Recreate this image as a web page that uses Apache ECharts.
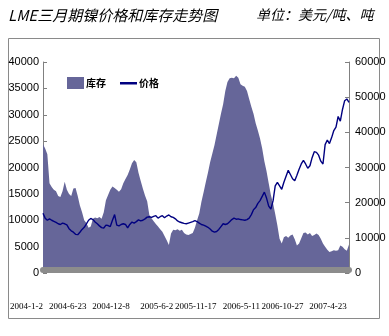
<!DOCTYPE html>
<html>
<head>
<meta charset="utf-8">
<script src="https://cdn.jsdelivr.net/npm/echarts@6/dist/echarts.min.js"></script>
<style>
html,body{margin:0;padding:0;background:#fff;}
#c{width:389px;height:336px;}
</style>
</head>
<body>
<div id="c"></div>
<script>
// Tick labels on the category axis (one every 20 samples)
var tickLabels = ['2004-1-2','2004-6-23','2004-12-8','2005-6-2','2005-11-17','2006-5-11','2006-10-27','2007-4-23'];

// LME nickel stocks (tonnes), left axis
var inventory = [
  24400,23600,22500,17000,16300,15800,15500,14600,14400,15500,
  17300,15800,15000,14600,16000,16100,14600,12800,11500,10000,
  9500,8600,8800,10300,10500,10400,10600,10300,11500,13800,
  14800,15800,16400,16100,15800,15400,15900,17000,17800,18600,
  19600,20800,21400,21000,19000,17500,16000,14700,13600,11000,
  10400,9800,9300,8800,8300,7800,7000,6200,5300,7500,
  8200,8100,8300,8000,8200,7600,7300,7200,7400,7600,
  8600,10000,11300,13500,15300,17200,19000,21000,22600,24200,
  26200,28200,30200,32000,34500,36200,36900,37000,36900,37400,
  37000,35800,35500,35300,34500,33000,31500,30200,28400,27000,
  25500,23600,21200,19300,17000,14800,13200,11200,9000,6500,
  5600,6800,7000,6700,7100,7300,6400,5200,5600,6600,
  7600,7700,7300,7600,7000,7200,7500,7200,6500,5600,
  5000,4400,4000,4100,4300,4200,4300,5200,5000,4500,4200,5400
];

// LME 3-month nickel price (USD/t), right axis
var price = [
  17000,15600,15000,15400,15000,14700,14400,14000,13800,14200,
  14000,13700,12600,12000,11600,11000,10900,11600,12400,13000,
  14000,15000,15500,15200,14500,14000,13400,12900,12800,13600,
  13500,13200,15000,16600,13600,13400,13800,14000,13800,12800,
  13800,14500,14200,14600,15100,14800,15000,15400,15900,16000,
  15800,16100,16300,15600,16000,16300,15700,16200,16500,16000,
  15800,15400,14800,14500,14300,14100,14000,14200,14400,14600,
  14900,14600,14200,13800,13600,13300,13000,12500,11900,11600,
  11800,12400,13200,14000,13800,14000,14600,15200,15600,15300,
  15400,15200,15100,15000,15200,15600,16600,18000,18600,19800,
  20600,21800,23000,21300,19000,18200,20500,24800,25800,24800,
  23800,25800,27500,29200,28000,26800,26200,27800,29500,31000,
  32000,31000,29800,30500,32800,34500,34300,33500,31800,31000,
  36500,37800,36800,38500,40500,41500,44500,43200,46500,49000,49500,48500
];

var seriesNames = ['库存','价格'];
var labelStep = 20;

var categories = inventory.map(function(_, i){ return String(i); });

var chart = echarts.init(document.getElementById('c'), null, {renderer:'canvas'});
var axisFont = "'Liberation Sans Narrow','Liberation Sans',sans-serif";
var dateFont = "'Liberation Serif','Times New Roman',serif";
var cjk = "'Noto Sans CJK SC',sans-serif";
chart.setOption({
  animation:false,
  backgroundColor:'#fff',
  title:[
    {text:'LME三月期镍价格和库存走势图', left:8, top:8, padding:0,
     textStyle:{fontSize:15, fontStyle:'italic', fontWeight:'normal', color:'#000', fontFamily:cjk}},
    {text:'单位：美元/吨、吨', left:256, top:8, padding:0,
     textStyle:{fontSize:14, fontStyle:'italic', fontWeight:'normal', color:'#000', fontFamily:cjk}}
  ],
  graphic:[
    {type:'rect', shape:{x:8.5, y:38.5, width:371, height:280}, style:{fill:'none', stroke:'#8a8a8a', lineWidth:1}, z:-1}
  ],
  legend:{
    left:67, top:77, itemWidth:17, itemHeight:12, itemGap:14, padding:0,
    symbolKeepAspect:false,
    textStyle:{fontSize:10, fontWeight:'bold', color:'#000', fontFamily:cjk, padding:[0,0,0,-3]},
    data:[
      {name:seriesNames[0], icon:'rect'},
      {name:seriesNames[1], icon:'path://M0,0L0.01,0L0,0.01Z M0,5L20,5L20,7.5L0,7.5Z M0,12L0.01,12L0,11.99Z'}
    ]
  },
  grid:{left:43, right:40, top:62, bottom:63},
  xAxis:{
    type:'category', data:categories, boundaryGap:false, z:10, offset:-3,
    axisLine:{show:true, lineStyle:{color:'#8c8c8c', width:6}},
    axisTick:{show:false},
    axisLabel:{
      interval:function(i){ return i % labelStep === 0; },
      formatter:function(v, i){ var k = i / labelStep; return tickLabels[k] || ''; },
      showMinLabel:true, showMaxLabel:true, hideOverlap:false,
      align:'right', margin:32, fontSize:9, color:'#000', fontFamily:dateFont
    },
    splitLine:{show:false}
  },
  yAxis:[
    {type:'value', min:0, max:40000, interval:5000, position:'left',
     axisLine:{show:true, lineStyle:{color:'#808080'}},
     axisTick:{show:true, inside:true, length:4, lineStyle:{color:'#808080'}},
     axisLabel:{fontSize:11, color:'#000', margin:4, fontFamily:axisFont, formatter:function(v){return String(v);}},
     splitLine:{show:false}},
    {type:'value', min:0, max:60000, interval:10000, position:'right',
     axisLine:{show:true, lineStyle:{color:'#808080'}},
     axisTick:{show:true, inside:true, length:4, lineStyle:{color:'#808080'}},
     axisLabel:{fontSize:11, color:'#000', margin:6, fontFamily:axisFont, formatter:function(v){return String(v);}},
     splitLine:{show:false}}
  ],
  series:[
    {name:seriesNames[0], type:'line', yAxisIndex:0, data:inventory, symbol:'none',
     itemStyle:{color:'#666699'}, lineStyle:{width:0, color:'#666699'},
     areaStyle:{color:'#666699', opacity:1}, z:1},
    {name:seriesNames[1], type:'line', yAxisIndex:1, data:price, symbol:'none',
     itemStyle:{color:'#000080'}, lineStyle:{width:1.4, color:'#000080'}, z:3}
  ]
});
</script>
</body>
</html>
